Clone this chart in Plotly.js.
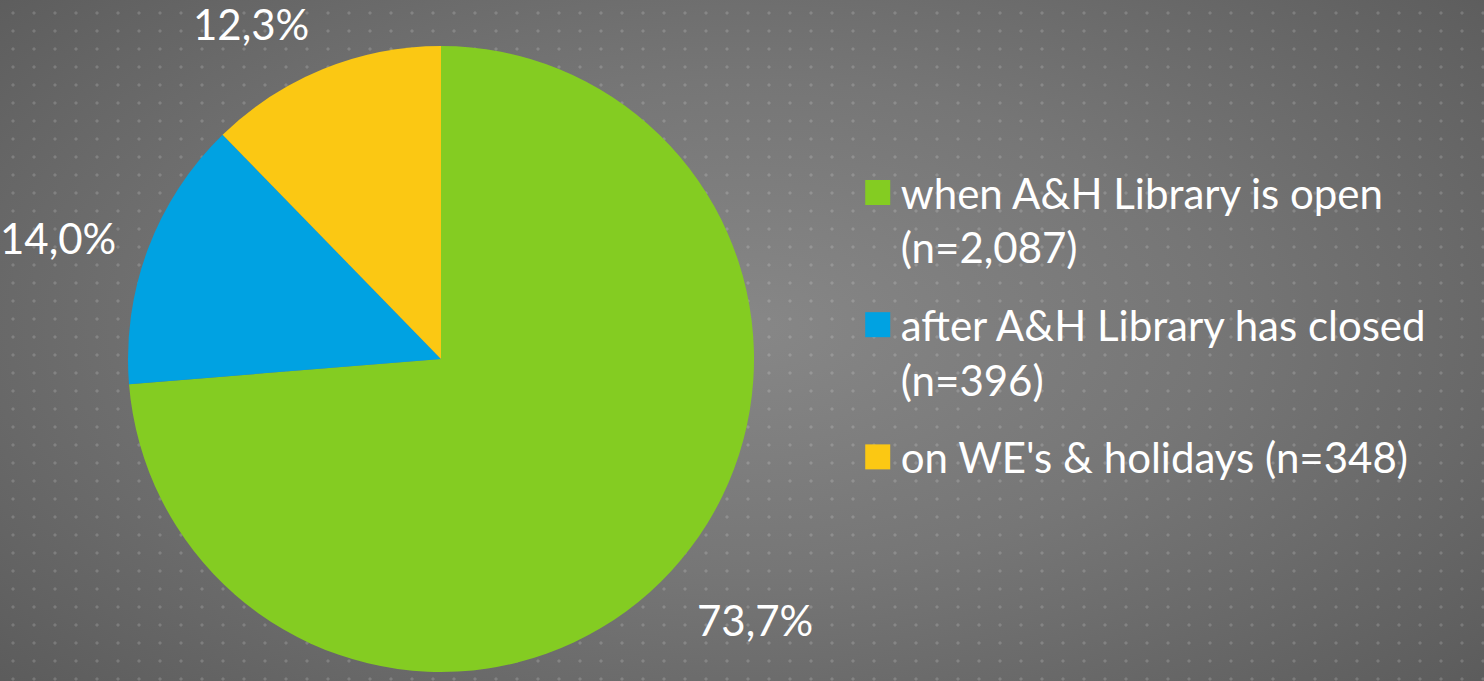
<!DOCTYPE html>
<html>
<head>
<meta charset="utf-8">
<script src="https://cdn.plot.ly/plotly-3.0.1.min.js"></script>
<style>
  html, body { margin: 0; padding: 0; width: 1484px; height: 681px; overflow: hidden; }
  body {
    background-color: #6e6e6e;
    background-image:
      radial-gradient(ellipse 1.3px 2.3px at 50% 50%, rgba(255,255,255,0.16) 95%, rgba(255,255,255,0) 100%),
      radial-gradient(ellipse 70% 80% at 50% 48%, #878787 0%, #767676 45%, #5a5a5a 100%);
    background-size: 21px 18px, 100% 100%;
    background-position: 2.5px 4px, 0 0;
  }
  #chart { width: 1484px; height: 681px; }
</style>
</head>
<body>
<div id="chart"></div>
<script>
const legendLabels = [
  "when A&H Library is open<br>(n=2,087)",
  "after A&H Library has closed<br>(n=396)",
  "on WE's & holidays (n=348)"
];
const counts = [2087, 396, 348];
const colors = ["#84cc22", "#00a2e2", "#fbc813"];

const W = 1484, H = 681;
const pieDomain = { x: [0.08625, 0.5081], y: [0.0132, 0.9325] };
const labelFont = { family: "Lato, sans-serif", size: 42, color: "#ffffff" };

// data-label annotations placed just outside the pie, along each slice's mid-angle
const total = counts.reduce((a, b) => a + b, 0);
const cxPx = (pieDomain.x[0] + pieDomain.x[1]) / 2 * W;
const cyPx = H - (pieDomain.y[0] + pieDomain.y[1]) / 2 * H;
const rPx = Math.min((pieDomain.x[1] - pieDomain.x[0]) * W, (pieDomain.y[1] - pieDomain.y[0]) * H) / 2;
const gapPx = 32;
let cum = 0;
const annotations = counts.map(function (v) {
  const frac = v / total;
  const mid = (cum + frac / 2) * 2 * Math.PI;
  cum += frac;
  const dx = Math.sin(mid), dy = -Math.cos(mid);
  const D = rPx + gapPx;
  const px = cxPx + D * dx, py = cyPx + D * dy;
  const yanchor = Math.abs(dy) < 0.5 ? "middle" : (dy > 0 ? "top" : "bottom");
  return {
    xref: "paper", yref: "paper",
    x: px / W, y: (H - py) / H,
    text: (frac * 100).toFixed(1).replace(".", ",") + "%",
    showarrow: false,
    xanchor: dx > 0.3 ? "left" : (dx < -0.3 ? "right" : "center"),
    yanchor: yanchor,
    // compensate the empty descender space under the digits
    yshift: yanchor === "bottom" ? -12 : 0,
    font: labelFont
  };
});

const data = [{
  type: "pie",
  labels: legendLabels,
  values: counts,
  sort: false,
  direction: "clockwise",
  rotation: 0,
  marker: { colors: colors, line: { width: 0 } },
  textinfo: "none",
  hoverinfo: "label+percent",
  domain: pieDomain
}];

const layout = {
  width: W,
  height: H,
  margin: { l: 0, r: 0, t: 0, b: 0 },
  paper_bgcolor: "rgba(0,0,0,0)",
  plot_bgcolor: "rgba(0,0,0,0)",
  separators: ",.",
  showlegend: true,
  annotations: annotations,
  legend: {
    x: 0.58, y: 0.767, xanchor: "left", yanchor: "top",
    valign: "top",
    font: { family: "Lato, sans-serif", size: 42, color: "#ffffff" },
    bgcolor: "rgba(0,0,0,0)"
  },
  font: { family: "Lato, sans-serif", color: "#ffffff" }
};

Plotly.newPlot("chart", data, layout, { displayModeBar: false, staticPlot: true }).then(function (gd) {
  // larger square legend keys, and a little extra space between legend entries
  gd.querySelectorAll(".legend .legendpoints path").forEach(function (p) {
    p.setAttribute("d", "M9.5,12.5H-15.5V-12.5H9.5Z");
  });
  gd.querySelectorAll(".legend [clip-path]").forEach(function (el) {
    el.removeAttribute("clip-path");
  });
  gd.querySelectorAll(".legend .traces").forEach(function (t, i) {
    const tr = t.getAttribute("transform") || "";
    const m = tr.match(/translate\(\s*([-\d.]+)[ ,]+([-\d.]+)\s*\)/);
    if (m) {
      t.setAttribute("transform", "translate(" + m[1] + "," + (parseFloat(m[2]) + i * 20) + ")");
    }
  });
});
</script>
</body>
</html>
